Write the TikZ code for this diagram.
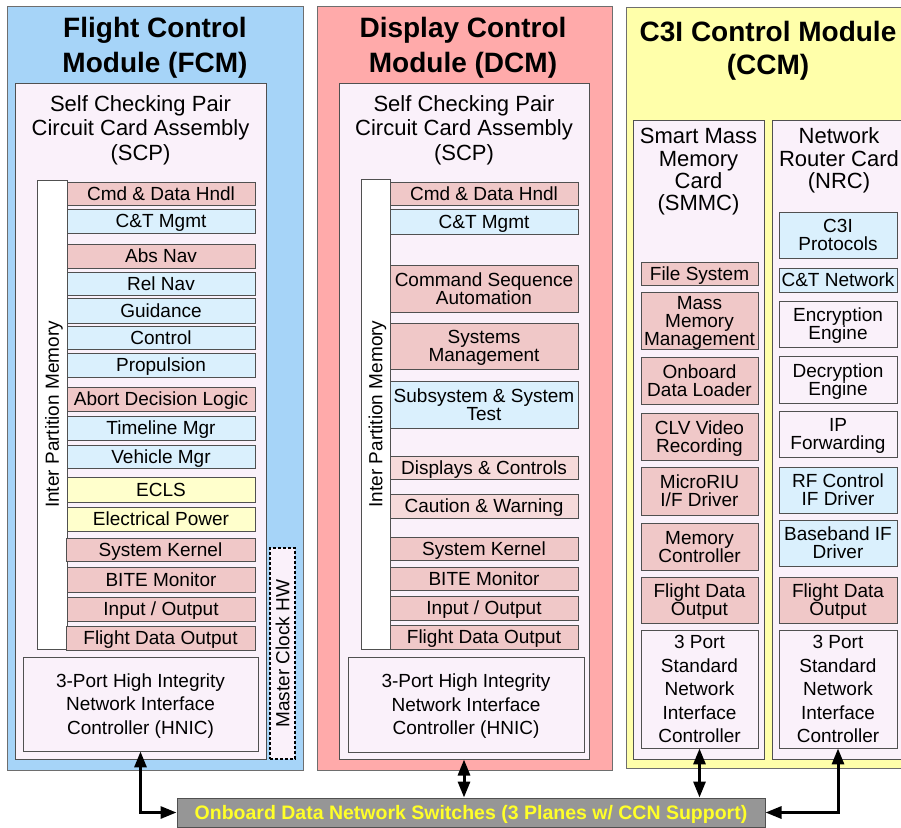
\documentclass[tikz,border=0pt]{standalone}
\usepackage{fontspec}
\setmainfont{Liberation Sans}
\usetikzlibrary{arrows.meta}

\definecolor{fcmfill}{RGB}{166,212,248}
\definecolor{dcmfill}{RGB}{255,170,170}
\definecolor{ccmfill}{RGB}{255,255,170}
\definecolor{palefill}{RGB}{250,241,250}
\definecolor{pinkfill}{RGB}{240,200,200}
\definecolor{lpinkfill}{RGB}{246,218,218}
\definecolor{bluefill}{RGB}{218,240,253}
\definecolor{yelfill}{RGB}{255,255,204}
\definecolor{barfill}{RGB}{150,150,150}
\definecolor{bartext}{RGB}{255,255,40}
\definecolor{edgegray}{RGB}{80,80,80}
\definecolor{modedge}{RGB}{110,110,110}

\newcommand\compfont{\fontsize{19}{18}\selectfont}
\newcommand\nicfont{\fontsize{19}{23.5}\selectfont}
\newcommand\cardfont{\fontsize{22}{23}\selectfont}
\newcommand\modfont{\fontsize{28}{34}\selectfont\bfseries}

\begin{document}
\begin{tikzpicture}[x=1pt,y=-1pt,
  % rectangle given by its corners: {left}{top}{right}{bottom}
  rr/.style n args={4}{at={({(#1+#3)/2},{(#2+#4)/2})},
    minimum width={(#3-#1)*1pt}, minimum height={(#4-#2)*1pt}},
  box/.style={rectangle, draw=edgegray, line width=0.9pt, inner sep=0pt, align=center,
    font=\compfont, text height=13.6pt, text depth=0pt},
  twolines/.style={text height=31.6pt},
  threelines/.style={text height=49.6pt},
  pinkbox/.style={box, fill=pinkfill},
  lpinkbox/.style={box, fill=lpinkfill},
  bluebox/.style={box, fill=bluefill},
  yelbox/.style={box, fill=yelfill},
  palebox/.style={box, fill=palefill},
  nicbox/.style={box, fill=palefill, font=\nicfont, text height=60.6pt},
  fivelines/.style={text height=107.6pt},
  ipmbox/.style={rectangle, draw=edgegray, line width=0.9pt, fill=white, inner sep=0pt},
  clockbox/.style={rectangle, draw=black, line width=1.2pt, dash pattern=on 3pt off 2pt, fill=palefill, inner sep=0pt},
  modbox/.style={rectangle, draw=modedge, line width=1pt, inner sep=0pt},
  cardbox/.style={rectangle, draw=edgegray, line width=1pt, fill=palefill, inner sep=0pt},
  modtitle/.style={anchor=base, font=\modfont, inner sep=0pt},
  cardtitle/.style={anchor=base, font=\cardfont, inner sep=0pt},
  vtext/.style={rotate=90, font=\compfont, inner sep=0pt, text height=13.6pt, text depth=0pt},
  barbox/.style={rectangle, draw=edgegray, line width=1pt, fill=barfill, inner sep=0pt,
    text=bartext, font=\fontsize{19.5}{20}\selectfont\bfseries, text height=14pt, text depth=0pt},
  conn/.style={line width=3pt, {Triangle[length=16pt,width=12pt]}-{Triangle[length=16pt,width=12pt]}}
]
\useasboundingbox (0,0) rectangle (901,827);
\clip (0,0) rectangle (901,827);
\fill[white] (0,0) rectangle (901,827);

% ---------------- Flight Control Module ----------------
\node[modbox, fill=fcmfill, rr={7}{6}{303}{770}] (fcm) {};
\node[modtitle] (fcmt1) at (155,37) {Flight Control};
\node[modtitle] (fcmt2) at (155,72) {Module (FCM)};
\node[cardbox, rr={15}{83}{266}{759}] (scp1) {};
\node[cardtitle] (scp1t1) at (140.5,111) {Self Checking Pair};
\node[cardtitle] (scp1t2) at (140.5,135.5) {Circuit Card Assembly};
\node[cardtitle] (scp1t3) at (140.5,160) {(SCP)};
\node[ipmbox, rr={37}{180}{67}{649}] (ipm1) {};
\node[vtext] (ipm1t) at (ipm1.center) {Inter Partition Memory};
\node[pinkbox, rr={67}{182}{255}{205}] (f1) {Cmd \& Data Hndl};
\node[bluebox, rr={67}{209}{255}{233}] (f2) {C\&T Mgmt};
\node[pinkbox, rr={67}{244}{255}{268}] (f3) {Abs Nav};
\node[bluebox, rr={67}{272}{255}{295}] (f4) {Rel Nav};
\node[bluebox, rr={67}{298}{255}{323}] (f5) {Guidance};
\node[bluebox, rr={67}{326}{255}{349}] (f6) {Control};
\node[bluebox, rr={67}{353}{255}{377}] (f7) {Propulsion};
\node[pinkbox, rr={67}{387}{255}{411}] (f8) {Abort Decision Logic};
\node[bluebox, rr={67}{416}{255}{440}] (f9) {Timeline Mgr};
\node[bluebox, rr={67}{445}{255}{468}] (f10) {Vehicle Mgr};
\node[yelbox, rr={67}{477}{255}{502}] (f11) {ECLS};
\node[yelbox, rr={67}{507}{255}{531}] (f12) {Electrical Power};
\node[pinkbox, rr={66}{538}{255}{561}] (f13) {System Kernel};
\node[pinkbox, rr={67}{567}{255}{592}] (f14) {BITE Monitor};
\node[pinkbox, rr={67}{597}{255}{621}] (f15) {Input / Output};
\node[pinkbox, rr={66}{626}{255}{650}] (f16) {Flight Data Output};
\node[nicbox, rr={23}{657}{258}{751}] (hnic1) {3-Port High Integrity\\Network Interface\\Controller (HNIC)};
\node[clockbox, rr={270}{548}{295}{759}] (mclk) {};
\node[vtext] (mclkt) at (mclk.center) {Master Clock HW};

% ---------------- Display Control Module ----------------
\node[modbox, fill=dcmfill, rr={317}{6}{612}{770}] (dcm) {};
\node[modtitle] (dcmt1) at (463,37) {Display Control};
\node[modtitle] (dcmt2) at (463,72) {Module (DCM)};
\node[cardbox, rr={339}{83}{589}{759}] (scp2) {};
\node[cardtitle] (scp2t1) at (464,111) {Self Checking Pair};
\node[cardtitle] (scp2t2) at (464,135.5) {Circuit Card Assembly};
\node[cardtitle] (scp2t3) at (464,160) {(SCP)};
\node[ipmbox, rr={361}{179}{390}{649}] (ipm2) {};
\node[vtext] (ipm2t) at (ipm2.center) {Inter Partition Memory};
\node[pinkbox, rr={390}{182}{578}{205}] (d1) {Cmd \& Data Hndl};
\node[bluebox, rr={390}{209}{578}{234}] (d2) {C\&T Mgmt};
\node[pinkbox, twolines, rr={390}{265}{578}{312}] (d3) {Command Sequence\\Automation};
\node[pinkbox, twolines, rr={390}{323}{578}{369}] (d4) {Systems\\Management};
\node[bluebox, twolines, rr={390}{381}{578}{428}] (d5) {Subsystem \& System\\Test};
\node[lpinkbox, rr={390}{456}{578}{479}] (d6) {Displays \& Controls};
\node[lpinkbox, rr={390}{494}{578}{518}] (d7) {Caution \& Warning};
\node[pinkbox, rr={390}{537}{578}{560}] (d8) {System Kernel};
\node[pinkbox, rr={390}{567}{578}{590}] (d9) {BITE Monitor};
\node[pinkbox, rr={390}{596}{578}{620}] (d10) {Input / Output};
\node[pinkbox, rr={390}{625}{578}{649}] (d11) {Flight Data Output};
\node[nicbox, rr={348}{657}{584}{752}] (hnic2) {3-Port High Integrity\\Network Interface\\Controller (HNIC)};

% ---------------- C3I Control Module ----------------
\node[modbox, fill=ccmfill, rr={626}{7}{930}{768}] (ccm) {};
\node[modtitle] (ccmt1) at (768,41) {C3I Control Module};
\node[modtitle] (ccmt2) at (768,74) {(CCM)};

% Smart Mass Memory Card
\node[cardbox, rr={633}{120}{764}{759}] (smmc) {};
\node[cardtitle] (smmct1) at (698.5,143) {Smart Mass};
\node[cardtitle] (smmct2) at (698.5,166) {Memory};
\node[cardtitle] (smmct3) at (698.5,188) {Card};
\node[cardtitle] (smmct4) at (698.5,210) {(SMMC)};
\node[pinkbox, rr={641}{262}{758}{285}] (s1) {File System};
\node[pinkbox, threelines, rr={641}{292}{758}{349}] (s2) {Mass\\Memory\\Management};
\node[pinkbox, twolines, rr={641}{357}{758}{404}] (s3) {Onboard\\Data Loader};
\node[pinkbox, twolines, rr={641}{413}{758}{460}] (s4) {CLV Video\\Recording};
\node[pinkbox, twolines, rr={641}{467}{758}{515}] (s5) {MicroRIU\\I/F Driver};
\node[pinkbox, twolines, rr={641}{523}{758}{570}] (s6) {Memory\\Controller};
\node[pinkbox, twolines, rr={641}{577}{758}{623}] (s7) {Flight Data\\Output};
\node[nicbox, fivelines, rr={641}{630}{758}{748}] (snic) {3 Port\\Standard\\Network\\Interface\\Controller};

% Network Router Card
\node[cardbox, rr={772}{120}{906}{759}] (nrc) {};
\node[cardtitle] (nrct1) at (839,143) {Network};
\node[cardtitle] (nrct2) at (839,166) {Router Card};
\node[cardtitle] (nrct3) at (839,188) {(NRC)};
\node[bluebox, twolines, rr={779}{212}{897}{258}] (n1) {C3I\\Protocols};
\node[bluebox, rr={779}{268}{897}{292}] (n2) {C\&T Network};
\node[palebox, twolines, rr={779}{301}{897}{347}] (n3) {Encryption\\Engine};
\node[palebox, twolines, rr={779}{356}{897}{403}] (n4) {Decryption\\Engine};
\node[palebox, twolines, rr={779}{411}{897}{457}] (n5) {IP\\Forwarding};
\node[bluebox, twolines, rr={779}{467}{897}{513}] (n6) {RF Control\\IF Driver};
\node[bluebox, twolines, rr={779}{520}{897}{566}] (n7) {Baseband IF\\Driver};
\node[pinkbox, twolines, rr={779}{577}{897}{623}] (n8) {Flight Data\\Output};
\node[nicbox, fivelines, rr={779}{630}{897}{748}] (nnic) {3 Port\\Standard\\Network\\Interface\\Controller};

% ---------------- Onboard network switches ----------------
\node[barbox, rr={177}{798}{765}{827}] (bar) {Onboard Data Network Switches (3 Planes w/ CCN Support)};

% ---------------- Network links ----------------
\draw[conn] (hnic1.south) |- (bar.west);
\draw[conn] (scp2.south) -- (scp2.south |- bar.north);
\draw[conn] (snic.south) -- (snic.south |- bar.north);
\draw[conn] (nnic.south) |- (bar.east);
\end{tikzpicture}
\end{document}
